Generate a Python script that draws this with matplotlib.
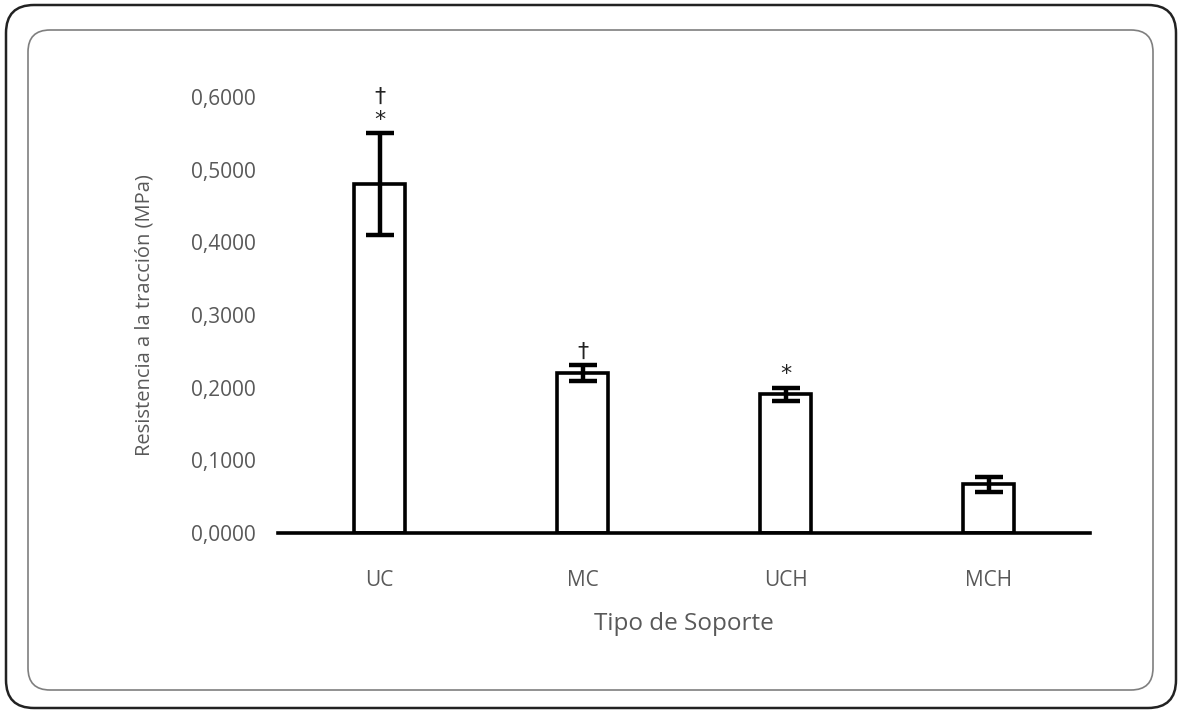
import matplotlib
matplotlib.use("Agg")
from matplotlib import pyplot as plt
from matplotlib.patches import FancyBboxPatch
from matplotlib.ticker import FuncFormatter

categorias = ["UC", "MC", "UCH", "MCH"]
resistencia = [0.480, 0.220, 0.191, 0.067]
error = [0.070, 0.011, 0.009, 0.010]
marcas = [["*", "\u2020"], ["\u2020"], ["*"], []]

gris = "#595959"
plt.rcParams['font.family'] = ['Open Sans', 'DejaVu Sans']

fig = plt.figure(figsize=(11.81, 7.14), dpi=100)

# marcos redondeados
marco = FancyBboxPatch((0.06, 0.06), 11.70, 7.03, boxstyle="round,pad=0,rounding_size=0.28",
                       transform=fig.dpi_scale_trans, fill=False, edgecolor="#222222", linewidth=1.8)
interior = FancyBboxPatch((0.28, 0.24), 11.25, 6.60, boxstyle="round,pad=0,rounding_size=0.22",
                          transform=fig.dpi_scale_trans, fill=False, edgecolor="#7f7f7f", linewidth=1.2)
fig.patches.extend([marco, interior])

axe = fig.add_axes([278 / 1181, 1 - 533 / 714, (1090 - 278) / 1181, (533 - 97) / 714])
x = range(len(categorias))
axe.bar(x, resistencia, width=0.25, color="white", edgecolor="black", linewidth=2.6, zorder=2)
axe.errorbar(x, resistencia, yerr=error, fmt="none", ecolor="black", elinewidth=3.2,
             capsize=10, capthick=3.2, zorder=3)

for i in x:
    base = resistencia[i] + error[i] + 0.005
    for k, m in enumerate(marcas[i]):
        axe.text(i, base + k * 0.032, m, ha="center", va="bottom", fontsize=16, color="#222222",
                 family=['DejaVu Sans'])

axe.set_xlim(-0.5, 3.5)
axe.set_ylim(0, 0.6)
axe.set_yticks([0, 0.1, 0.2, 0.3, 0.4, 0.5, 0.6])
axe.yaxis.set_major_formatter(FuncFormatter(lambda v, p: f"{v:.4f}".replace(".", ",")))
axe.set_xticks(list(x))
axe.set_xticklabels(categorias)
axe.tick_params(length=0, labelsize=15, colors=gris)
axe.tick_params(axis="x", pad=27)
axe.tick_params(axis="y", pad=16)
for s in ["top", "right", "left"]:
    axe.spines[s].set_visible(False)
axe.spines["bottom"].set_linewidth(2.6)
axe.spines["bottom"].set_color("black")
axe.spines["bottom"].set_zorder(4)

axe.set_xlabel("Tipo de Soporte", fontsize=17.5, color=gris, labelpad=15)
axe.set_ylabel("Resistencia a la tracción (MPa)", fontsize=14.5, color=gris, labelpad=26)
axe.set_facecolor("none")

fig.savefig("out.png", dpi=100)
